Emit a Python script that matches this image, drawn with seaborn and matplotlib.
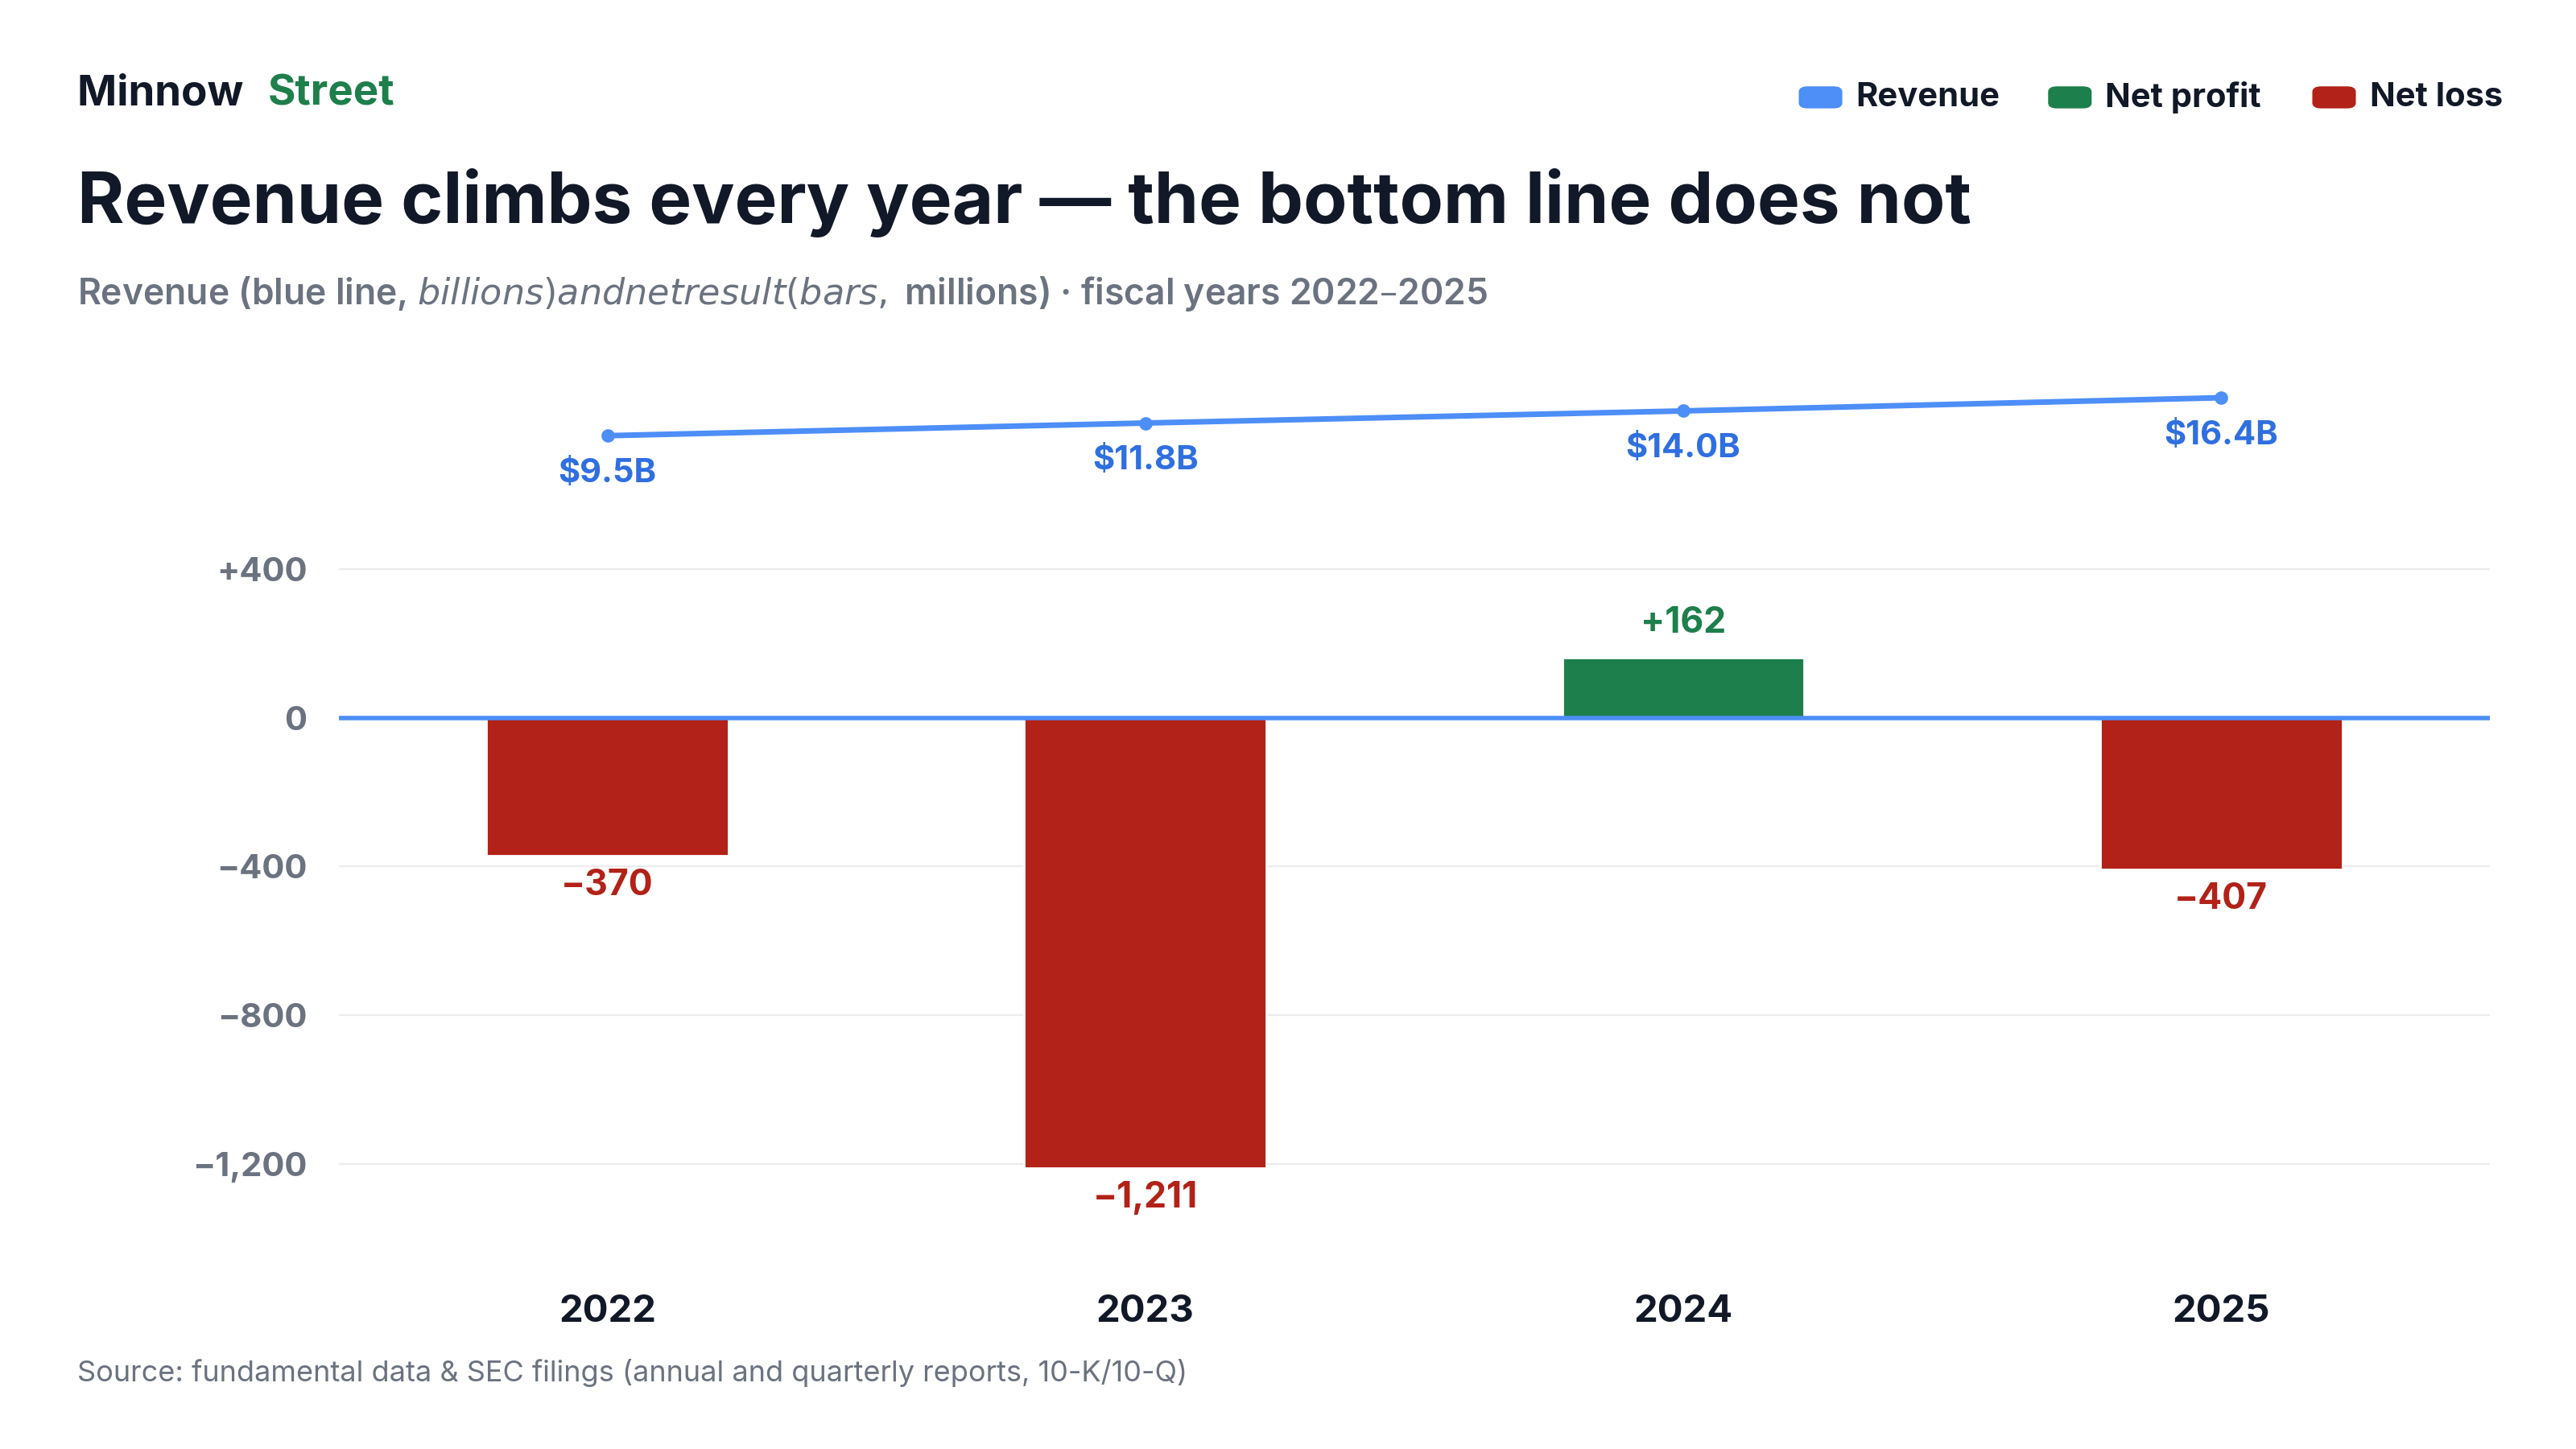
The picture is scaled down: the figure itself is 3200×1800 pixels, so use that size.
import matplotlib
matplotlib.use("Agg")
import matplotlib.pyplot as plt
import seaborn as sns
import pandas as pd

years = ["2022", "2023", "2024", "2025"]
revenue_b = [9.5, 11.8, 14.0, 16.4]
net_m = [-370, -1211, 162, -407]
net_labels = ["\u2212370", "\u22121,211", "+162", "\u2212407"]
yticks = [400, 0, -400, -800, -1200]
ytick_labels = ["+400", "0", "\u2212400", "\u2212800", "\u22121,200"]

sns.set_theme(style="white")
plt.rcParams['font.family'] = ['Inter', 'DejaVu Sans']

BLUE = "#4d8ef7"; BLUE_T = "#2f6fe0"; GREEN = "#1d7f4b"; RED = "#b22218"
DARK = "#111827"; GREY = "#6b7280"

fig = plt.figure(figsize=(16, 9), dpi=200)
W, H = 1560, 878
def fx(x): return x / W
def fy(y): return 1 - y / H

df = pd.DataFrame({"year": years, "net": net_m,
                   "kind": ["Net profit" if v > 0 else "Net loss" for v in net_m]})

ax = fig.add_axes([fx(205), fy(760), fx(1508) - fx(205), fy(330) - fy(760)])
sns.barplot(data=df, x="year", y="net", hue="kind",
            palette={"Net profit": GREEN, "Net loss": RED},
            dodge=False, width=0.45, ax=ax, legend=False, saturation=1)
ax.set_xlim(-0.5, 3.5)
ax.set_ylim(-1444, 467)
ax.set_yticks(yticks)
ax.set_yticklabels(ytick_labels)
for t in yticks:
    if t != 0:
        ax.axhline(t, color="#ececec", lw=0.8, zorder=0)
ax.axhline(0, color=BLUE, lw=2, zorder=3)
for s in ax.spines.values():
    s.set_visible(False)
ax.set_xlabel(""); ax.set_ylabel("")
ax.tick_params(axis="y", labelsize=15, labelcolor=GREY, length=0, pad=14)
ax.tick_params(axis="x", labelsize=17, labelcolor=DARK, length=0, pad=18)
for l in ax.get_yticklabels():
    l.set_fontweight("bold")
for l in ax.get_xticklabels():
    l.set_fontweight("bold")
for i, (v, lab) in enumerate(zip(net_m, net_labels)):
    c = GREEN if v > 0 else RED
    if v > 0:
        ax.annotate(lab, (i, v), xytext=(0, 8), textcoords="offset points",
                    ha="center", va="bottom", fontsize=16, fontweight="bold", color=c)
    else:
        ax.annotate(lab, (i, v), xytext=(0, -6), textcoords="offset points",
                    ha="center", va="top", fontsize=16, fontweight="bold", color=c)

rax = fig.add_axes([fx(205), fy(300), fx(1508) - fx(205), fy(230) - fy(300)])
sns.lineplot(x=list(range(4)), y=revenue_b, ax=rax, color=BLUE, lw=2.5,
             marker="o", markersize=6, markeredgewidth=0)
rax.set_xlim(-0.5, 3.5); rax.set_ylim(-1.3, 19.7)
rax.axis("off")
for i, v in enumerate(revenue_b):
    rax.annotate(f"${v:.1f}B", (i, v), xytext=(0, -10), textcoords="offset points",
                 ha="center", va="top", fontsize=15, fontweight="bold", color=BLUE_T)

fig.text(fx(47), fy(57), "Minnow ", fontsize=19, fontweight="bold", color=DARK, va="center")
fig.text(fx(162), fy(57), "Street", fontsize=19, fontweight="bold", color=GREEN, va="center")
fig.text(fx(47), fy(123), "Revenue climbs every year \u2014 the bottom line does not",
         fontsize=32, fontweight="bold", color=DARK, va="center")
fig.text(fx(47), fy(178), "Revenue (blue line, $ billions) and net result (bars, $ millions) \u00b7 fiscal years 2022\u20132025",
         fontsize=16, color=GREY, fontweight="semibold", va="center")
fig.text(fx(47), fy(832), "Source: fundamental data & SEC filings (annual and quarterly reports, 10-K/10-Q)",
         fontsize=13, color=GREY, va="center")

from matplotlib.patches import FancyBboxPatch
for x0, txt, c in [(1090, "Revenue", BLUE), (1241, "Net profit", GREEN), (1401, "Net loss", RED)]:
    fig.patches.append(FancyBboxPatch((fx(x0), fy(65)), fx(25), fy(53) - fy(65),
                                      boxstyle="round,pad=0,rounding_size=0.003",
                                      transform=fig.transFigure, color=c))
    fig.text(fx(x0 + 34), fy(59), txt, fontsize=15, fontweight="bold", color=DARK, va="center")

fig.savefig("out.png", dpi=200, facecolor="white")
